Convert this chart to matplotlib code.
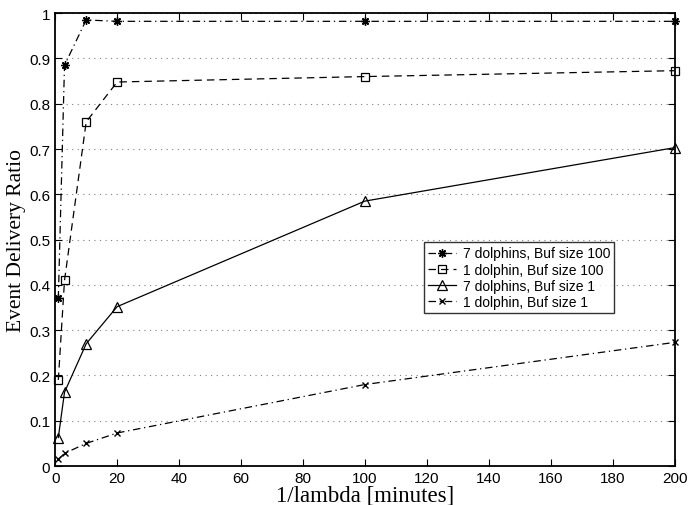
import matplotlib
matplotlib.use('Agg')
import matplotlib.pyplot as plt

# 1/lambda in minutes
x = [1, 3, 10, 20, 100, 200]

# event delivery ratio per configuration
dolph7_buf100 = [0.37, 0.885, 0.985, 0.982, 0.982, 0.982]
dolph1_buf100 = [0.19, 0.41, 0.76, 0.848, 0.86, 0.873]
dolph7_buf1 = [0.063, 0.163, 0.27, 0.352, 0.585, 0.703]
dolph1_buf1 = [0.015, 0.028, 0.05, 0.073, 0.18, 0.273]

labels = ['7 dolphins, Buf size 100', '1 dolphin, Buf size 100',
          '7 dolphins, Buf size 1', '1 dolphin, Buf size 1']

plt.rcParams['font.family'] = ['Liberation Sans', 'DejaVu Sans']

fig, ax = plt.subplots(figsize=(6.99, 5.06), dpi=100)
fig.subplots_adjust(left=0.079, right=0.965, top=0.972, bottom=0.077)

ax.plot(x, dolph7_buf100, color='black', lw=0.9, ls=(0, (6, 3, 1, 3)),
        marker=(8, 2, 0), ms=6, mew=1.0, label=labels[0], clip_on=False)
ax.plot(x, dolph1_buf100, color='black', lw=0.9, ls=(0, (6, 4)),
        marker='s', ms=6, mfc='none', mew=0.9, label=labels[1], clip_on=False)
ax.plot(x, dolph7_buf1, color='black', lw=0.9, ls='-',
        marker='^', ms=7.5, mfc='none', mew=0.9, label=labels[2], clip_on=False)
ax.plot(x, dolph1_buf1, color='black', lw=0.9, ls=(0, (6, 3, 1, 3)),
        marker='x', ms=4.5, mew=1.0, label=labels[3], clip_on=False)

ax.set_xlim(0, 200)
ax.set_ylim(0, 1)
ax.set_xticks(range(0, 201, 20))
ax.set_yticks([i / 10 for i in range(11)])
ax.set_yticklabels(['0'] + [f'{i / 10:.1f}' for i in range(1, 10)] + ['1'])
ax.yaxis.grid(True, ls=(0, (1, 4)), color='gray', lw=0.8)
ax.tick_params(direction='in', top=True, right=True, labelsize=11, length=5)
for s in ax.spines.values():
    s.set_linewidth(1.3)

ax.set_xlabel('1/lambda [minutes]', family='Liberation Serif', fontsize=16.5, labelpad=0)
ax.set_ylabel('Event Delivery Ratio', family='Liberation Serif', fontsize=15.5, labelpad=2)

leg = ax.legend(loc='upper left', bbox_to_anchor=(0.595, 0.494), fontsize=10,
                frameon=True, fancybox=False, edgecolor='black',
                handlelength=2.0, borderpad=0.3, labelspacing=0.15,
                handletextpad=0.5, borderaxespad=0)
leg.get_frame().set_linewidth(1.0)

fig.savefig('out.png', dpi=100)
